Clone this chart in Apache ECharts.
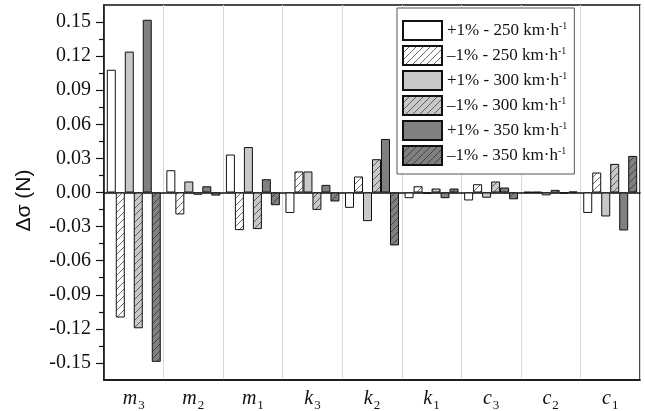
<!DOCTYPE html>
<html>
<head>
<meta charset="utf-8">
<script src="https://cdn.jsdelivr.net/npm/echarts@6/dist/echarts.min.js"></script>
<style>
  html, body { margin: 0; padding: 0; background: #fff; }
  #chart { width: 645px; height: 411px; }
</style>
</head>
<body>
<div id="chart"></div>
<script>
// parameters on the x axis: [letter, subscript]
const params = [['m', '3'], ['m', '2'], ['m', '1'], ['k', '3'], ['k', '2'], ['k', '1'], ['c', '3'], ['c', '2'], ['c', '1']];
const seriesNames = ['+1% - 250 km·h', '–1% - 250 km·h', '+1% - 300 km·h', '–1% - 300 km·h', '+1% - 350 km·h', '–1% - 350 km·h'];

const plus250 = [0.108, 0.0196, 0.0334, -0.018, -0.0135, -0.005, -0.007, 0.0005, -0.018];
const minus250 = [-0.110, -0.0193, -0.0331, 0.0185, 0.0141, 0.0055, 0.0073, 0.0005, 0.0176];
const plus300 = [0.124, 0.0097, 0.040, 0.0185, -0.0252, -0.001, -0.0046, -0.0025, -0.0211];
const minus300 = [-0.1195, -0.002, -0.0322, -0.0153, 0.0293, 0.0035, 0.0097, 0.0023, 0.0252];
const plus350 = [0.152, 0.0055, 0.0117, 0.0067, 0.0471, -0.005, 0.0044, -0.0008, -0.0334];
const minus350 = [-0.149, -0.0027, -0.0112, -0.0079, -0.0466, 0.0035, -0.006, 0.0008, 0.0322];

const majorTicks = [-0.15, -0.12, -0.09, -0.06, -0.03, 0, 0.03, 0.06, 0.09, 0.12, 0.15];
const minorTicks = [-0.135, -0.105, -0.075, -0.045, -0.015, 0.015, 0.045, 0.075, 0.105, 0.135];

const serif = '"Liberation Serif", "Times New Roman", serif';

function hatch(bg, line) {
  const c = document.createElement('canvas');
  c.width = c.height = 7;
  const g = c.getContext('2d');
  g.fillStyle = bg;
  g.fillRect(0, 0, 7, 7);
  g.strokeStyle = line;
  g.lineWidth = 0.8;
  g.beginPath();
  g.moveTo(0, 7); g.lineTo(7, 0);
  g.moveTo(-1, 1); g.lineTo(1, -1);
  g.moveTo(6, 8); g.lineTo(8, 6);
  g.stroke();
  return { image: c, repeat: 'repeat' };
}

const fills = [
  '#ffffff',
  hatch('#ffffff', '#444'),
  '#c8c8c8',
  hatch('#c8c8c8', '#444'),
  '#808080',
  hatch('#808080', '#333')
];
const values = [plus250, minus250, plus300, minus300, plus350, minus350];

const chart = echarts.init(document.getElementById('chart'));

const series = seriesNames.map((name, i) => ({
  name: name,
  type: 'bar',
  data: values[i],
  barGap: '0%',
  barCategoryGap: '9.4%',
  itemStyle: { color: fills[i], borderColor: '#111', borderWidth: 1 },
  emphasis: { disabled: true }
}));

chart.setOption({
  animation: false,
  grid: { left: 104, right: 5, top: 5, bottom: 31, show: true, borderColor: '#111', borderWidth: 1.5, outerBoundsMode: 'none' },
  legend: {
    orient: 'vertical',
    left: 397, top: 8,
    itemWidth: 39, itemHeight: 19, itemGap: 4, itemTextGap: 3,
    padding: [12, 7, 8, 5],
    backgroundColor: '#fff',
    borderColor: '#555', borderWidth: 1,
    icon: 'rect',
    formatter: n => '{t|' + n + '}{s|-1}',
    textStyle: {
      lineHeight: 19,
      rich: {
        t: { fontFamily: serif, fontSize: 17, color: '#111', lineHeight: 19 },
        s: { fontFamily: serif, fontSize: 10, color: '#111', verticalAlign: 'top', lineHeight: 10 }
      }
    }
  },
  xAxis: [{
    type: 'category',
    data: params.map(p => p[0] + p[1]),
    axisLine: { onZero: false, lineStyle: { color: '#111', width: 1.5 } },
    axisTick: { show: false },
    splitLine: { show: true, interval: 0, lineStyle: { color: '#d9d9d9', width: 1 } },
    axisLabel: {
      interval: 0,
      margin: 9,
      formatter: (v, i) => '{a|' + params[i][0] + '}{b|' + params[i][1] + '}',
      rich: {
        a: { fontFamily: serif, fontStyle: 'italic', fontSize: 20, color: '#111', lineHeight: 20, verticalAlign: 'top' },
        b: { fontFamily: serif, fontSize: 13, color: '#111', lineHeight: 13, padding: [10, 0, 0, 1], verticalAlign: 'top' }
      }
    }
  }, {
    type: 'category',
    data: params.map(p => p[0] + p[1]),
    position: 'bottom',
    axisLine: { onZero: true, lineStyle: { color: '#111', width: 1.5 } },
    axisTick: { show: false },
    axisLabel: { show: false },
    splitLine: { show: false }
  }],
  yAxis: [{
    type: 'value',
    min: -0.165, max: 0.165,
    name: 'Δσ (N)',
    nameLocation: 'middle',
    nameGap: 69,
    nameTextStyle: { fontFamily: '"Liberation Sans", Arial, sans-serif', fontSize: 21, color: '#111', padding: [0, 16, 0, 0] },
    axisLine: { show: true, lineStyle: { color: '#111', width: 1.5 } },
    axisTick: { show: true, length: 8, customValues: majorTicks, lineStyle: { color: '#111', width: 1.2 } },
    axisLabel: {
      customValues: majorTicks,
      margin: 13,
      fontFamily: serif, fontSize: 20, color: '#111',
      formatter: v => v.toFixed(2)
    },
    splitLine: { show: false }
  }, {
    type: 'value',
    min: -0.165, max: 0.165,
    position: 'left',
    axisLine: { show: false },
    axisTick: { show: true, length: 5, customValues: minorTicks, lineStyle: { color: '#111', width: 1.2 } },
    axisLabel: { show: false },
    splitLine: { show: false }
  }],
  series: series
});
</script>
</body>
</html>
